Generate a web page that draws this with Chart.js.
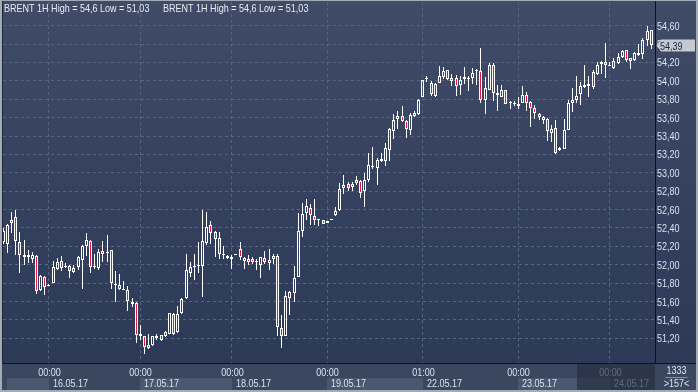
<!DOCTYPE html>
<html>
<head>
<meta charset="utf-8">
<script src="https://cdn.jsdelivr.net/npm/chart.js@4.4.1/dist/chart.umd.min.js"></script>
<style>
  html, body { margin: 0; padding: 0; background: #a3abb7; }
  #marco { width: 698px; height: 392px; }
</style>
</head>
<body>
<div id="marco"><canvas id="grafico" width="698" height="392"></canvas></div>
<script>
// BRENT 1H, velas horarias 15.05.17 - 24.05.17
const simbolo = "BRENT 1H";
const totalBarras = 1333;

const aperturas = [
  52.25, 52.23, 52.45, 52.52, 52.25, 52.08, 52.08, 52.06, 52.10, 51.72,
  51.87, 51.77, 51.80, 51.95, 52.04, 51.97, 51.99, 51.92, 51.98, 52.05,
  52.20, 52.26, 51.97, 51.96, 52.15, 52.13, 52.16, 51.78, 51.78, 51.73,
  51.73, 51.60, 51.58, 51.22, 51.22, 51.09, 51.13, 51.23, 51.18, 51.22,
  51.25, 51.46, 51.27, 51.47, 51.64, 51.91, 51.97, 51.99, 51.99, 52.24,
  52.43, 52.36, 52.29, 52.11, 52.10, 52.06, 52.11, 52.17, 52.04, 52.06,
  52.06, 52.03, 52.00, 52.07, 52.02, 52.06, 52.10, 51.31, 51.23, 51.64,
  51.69, 51.87, 52.37, 52.56, 52.62, 52.53, 52.49, 52.49, 52.45, 52.49,
  52.54, 52.59, 52.84, 52.88, 52.85, 52.89, 52.91, 52.80, 52.92, 53.06,
  53.05, 53.13, 53.13, 53.25, 53.46, 53.58, 53.62, 53.56, 53.47, 53.62,
  53.64, 53.82, 54.02, 53.98, 53.84, 53.98, 54.04, 54.12, 54.00, 54.03,
  53.95, 54.02, 54.02, 54.03, 54.11, 54.11, 53.79, 53.90, 54.17, 53.85,
  53.83, 53.90, 53.76, 53.75, 53.73, 53.76, 53.85, 53.77, 53.70, 53.61,
  53.61, 53.59, 53.43, 53.49, 53.25, 53.26, 53.47, 53.76, 53.79, 53.86,
  53.93, 53.94, 53.93, 54.08, 54.18, 54.20, 54.16, 54.14, 54.19, 54.26,
  54.34, 54.25, 54.23, 54.28, 54.29, 54.45, 54.55
];
const maximos = [
  52.40, 52.44, 52.57, 52.60, 52.36, 52.27, 52.16, 52.14, 52.11, 51.89,
  51.88, 51.79, 52.04, 52.07, 52.09, 52.02, 52.00, 52.00, 52.10, 52.22,
  52.34, 52.27, 52.12, 52.17, 52.26, 52.32, 52.16, 51.93, 51.90, 51.82,
  51.77, 51.64, 51.59, 51.34, 51.23, 51.25, 51.23, 51.25, 51.24, 51.28,
  51.48, 51.47, 51.55, 51.64, 52.12, 52.03, 52.12, 52.25, 52.60, 52.57,
  52.48, 52.37, 52.36, 52.20, 52.11, 52.11, 52.11, 52.25, 52.08, 52.11,
  52.08, 52.06, 52.08, 52.15, 52.17, 52.12, 52.12, 51.45, 51.71, 51.71,
  51.99, 52.56, 52.67, 52.72, 52.66, 52.72, 52.50, 52.49, 52.48, 52.49,
  52.63, 52.89, 52.98, 52.90, 52.90, 52.97, 52.92, 53.00, 53.22, 53.28,
  53.16, 53.21, 53.32, 53.49, 53.64, 53.67, 53.73, 53.57, 53.65, 53.67,
  53.80, 54.01, 54.05, 54.00, 53.98, 54.16, 54.15, 54.12, 54.07, 54.06,
  54.05, 54.15, 54.05, 54.14, 54.13, 54.36, 54.04, 54.19, 54.19, 53.96,
  53.96, 53.90, 53.78, 53.78, 53.82, 53.94, 53.88, 53.78, 53.74, 53.65,
  53.62, 53.60, 53.52, 53.57, 53.28, 53.58, 53.79, 53.92, 54.05, 53.99,
  54.17, 54.05, 54.12, 54.21, 54.22, 54.41, 54.21, 54.25, 54.30, 54.34,
  54.34, 54.25, 54.31, 54.40, 54.47, 54.60, 54.55
];
const minimos = [
  52.23, 52.13, 52.34, 52.11, 51.91, 52.00, 52.02, 52.02, 51.68, 51.71,
  51.67, 51.77, 51.80, 51.94, 51.93, 51.96, 51.86, 51.91, 51.94, 51.74,
  52.10, 51.91, 51.95, 51.94, 52.03, 52.03, 51.74, 51.59, 51.73, 51.72,
  51.50, 51.54, 51.15, 51.18, 51.03, 51.08, 51.12, 51.18, 51.17, 51.21,
  51.25, 51.24, 51.26, 51.46, 51.63, 51.87, 51.83, 51.91, 51.65, 52.22,
  52.23, 52.08, 52.06, 52.06, 52.06, 51.95, 52.11, 52.05, 51.95, 52.00,
  52.01, 51.94, 51.86, 52.01, 51.94, 52.01, 51.22, 51.09, 51.22, 51.45,
  51.60, 51.87, 52.30, 52.49, 52.43, 52.43, 52.42, 52.44, 52.45, 52.49,
  52.53, 52.58, 52.77, 52.80, 52.80, 52.87, 52.73, 52.63, 52.90, 53.04,
  52.87, 53.12, 53.07, 53.13, 53.37, 53.48, 53.55, 53.38, 53.41, 53.61,
  53.63, 53.82, 53.99, 53.84, 53.83, 53.98, 54.02, 54.01, 53.94, 53.84,
  53.85, 53.97, 53.89, 53.97, 53.96, 53.76, 53.64, 53.90, 53.78, 53.67,
  53.82, 53.75, 53.69, 53.73, 53.69, 53.76, 53.67, 53.50, 53.59, 53.57,
  53.53, 53.35, 53.33, 53.20, 53.24, 53.26, 53.47, 53.66, 53.76, 53.74,
  53.92, 53.83, 53.91, 54.06, 54.08, 54.03, 54.16, 54.13, 54.18, 54.25,
  54.21, 54.13, 54.22, 54.27, 54.24, 54.38, 54.35
];
const cierres = [
  52.37, 52.43, 52.49, 52.26, 52.11, 52.11, 52.11, 52.11, 51.71, 51.88,
  51.76, 51.78, 51.97, 52.03, 51.96, 51.99, 51.93, 51.96, 52.08, 52.20,
  52.27, 51.98, 51.99, 52.14, 52.12, 52.14, 51.80, 51.79, 51.74, 51.73,
  51.61, 51.57, 51.24, 51.25, 51.10, 51.13, 51.22, 51.20, 51.24, 51.27,
  51.47, 51.25, 51.46, 51.63, 51.94, 51.97, 51.99, 51.99, 52.26, 52.41,
  52.34, 52.28, 52.12, 52.11, 52.07, 52.08, 52.11, 52.08, 52.07, 52.03,
  52.03, 52.03, 52.08, 52.03, 52.05, 52.10, 51.32, 51.22, 51.66, 51.70,
  51.86, 52.37, 52.55, 52.64, 52.54, 52.49, 52.49, 52.44, 52.48, 52.49,
  52.58, 52.82, 52.87, 52.84, 52.88, 52.92, 52.78, 52.92, 53.09, 53.07,
  53.14, 53.15, 53.27, 53.48, 53.57, 53.62, 53.56, 53.48, 53.63, 53.65,
  53.79, 54.01, 54.02, 53.86, 53.97, 54.05, 54.11, 54.02, 54.03, 53.94,
  54.01, 54.04, 54.03, 54.09, 54.11, 53.79, 53.92, 54.17, 53.87, 53.87,
  53.90, 53.75, 53.76, 53.75, 53.75, 53.85, 53.76, 53.71, 53.65, 53.64,
  53.57, 53.46, 53.48, 53.22, 53.27, 53.47, 53.76, 53.79, 53.84, 53.94,
  53.96, 53.97, 54.10, 54.17, 54.20, 54.17, 54.16, 54.22, 54.26, 54.33,
  54.23, 54.22, 54.30, 54.30, 54.45, 54.54, 54.39
];

// numero de vela donde empieza cada dia
const inicioDia = [12, 34, 56, 79, 102, 125, 147];
const horasDia = ["00:00", "00:00", "00:00", "00:00", "01:00", "00:00", "00:00"];
const fechasDia = ["16.05.17", "17.05.17", "18.05.17", "19.05.17", "22.05.17", "23.05.17", "24.05.17"];
const preciosEje = [51.2, 51.4, 51.6, 51.8, 52.0, 52.2, 52.4, 52.6, 52.8, 53.0, 53.2, 53.4, 53.6, 53.8, 54.0, 54.2, 54.4, 54.6];

const fuente = '11px "Liberation Sans", Arial, sans-serif';
const estrecho = 0.82; // simula una fuente estrecha
const rojo = "#e3173f";
const blanco = "#ffffff";
const rejilla = "#56647e";
const textoEje = "#d9e3f2";
const coma = v => String(v).replace(".", ",");

const velas = aperturas.map((_, i) => i + 1);
const mechaAlta = velas.map((x, i) => ({ x, y: [Math.max(aperturas[i], cierres[i]), maximos[i]] }));
const mechaBaja = velas.map((x, i) => ({ x, y: [minimos[i], Math.min(aperturas[i], cierres[i])] }));
const cuerpos = velas.map((x, i) => ({ x, y: [aperturas[i], cierres[i]] }));
const rellenos = velas.map((_, i) => cierres[i] < aperturas[i] ? rojo : "rgba(0,0,0,0)");

function texto(ctx, str, x, y, align, color) {
  ctx.save();
  ctx.translate(x, y);
  ctx.scale(estrecho, 1);
  ctx.font = fuente;
  ctx.textAlign = align;
  ctx.textBaseline = "alphabetic";
  ctx.fillStyle = color;
  ctx.fillText(str, 0, 0);
  ctx.restore();
}

const decorado = {
  id: "decorado",
  beforeDraw(chart) {
    const { ctx, chartArea: a, width, height } = chart;
    const x = chart.scales.x;
    ctx.save();
    ctx.fillStyle = "#a3abb7";
    ctx.fillRect(0, 0, width, height);
    const g = ctx.createLinearGradient(0, a.top, 0, a.bottom);
    g.addColorStop(0, "#3f4b67");
    g.addColorStop(1, "#2c3957");
    ctx.fillStyle = g;
    ctx.fillRect(2, 1, width - 4, a.bottom - 1);
    ctx.fillStyle = "#3b475f";
    ctx.fillRect(2, a.bottom, width - 4, height - 2 - a.bottom);
    // cajas alternas de las fechas
    const bordes = [a.left + 4, ...inicioDia.map(v => Math.round(x.getPixelForValue(v))), a.right];
    ctx.fillStyle = "#4b576f";
    for (let k = 0; k < bordes.length - 1; k += 2) {
      ctx.fillRect(bordes[k], a.bottom + 15, bordes[k + 1] - bordes[k], 12);
    }
    ctx.restore();
  },
  afterDatasetsUpdate(chart) {
    chart.data.datasets.forEach((ds, i) => {
      chart.getDatasetMeta(i).data.forEach(el => {
        el.x = Math.floor(el.x) + 0.5;
        el.y = Math.round(el.y);
        el.base = Math.round(el.base);
      });
    });
  },
  afterDraw(chart) {
    const { ctx, chartArea: a, width, height } = chart;
    const x = chart.scales.x, y = chart.scales.y;
    ctx.save();

    // cabecera
    const cab = `${simbolo} High = ${coma(Math.max(...maximos))} Low = ${coma(Math.min(...minimos))}`;
    texto(ctx, cab, 4, 12, "left", "#e8edf5");
    texto(ctx, cab, 163, 12, "left", "#e8edf5");

    // etiquetas del eje de precios
    y.ticks.forEach(t => {
      texto(ctx, t.value.toFixed(2).replace(".", ","), a.right + 2, Math.round(y.getPixelForValue(t.value)) + 4, "left", textoEje);
    });

    // horas y fechas
    x.ticks.forEach((t, k) => {
      const px = Math.round(x.getPixelForValue(t.value));
      texto(ctx, horasDia[k], px + 0.5, a.bottom + 13, "center", textoEje);
      texto(ctx, fechasDia[k], px + 4, a.bottom + 24, "left", textoEje);
    });

    // lineas del marco
    ctx.fillStyle = "#0c1220";
    ctx.fillRect(a.right, 1, 1, a.bottom);
    ctx.fillRect(2, a.bottom, width - 4, 1);
    ctx.fillStyle = "#1f2738";
    ctx.fillRect(2, 1, 1, a.bottom);

    // precio actual
    const ult = cierres[cierres.length - 1];
    const py = Math.round(y.getPixelForValue(ult));
    ctx.fillStyle = "#c4c9d2";
    ctx.beginPath();
    ctx.moveTo(a.right + 1.5, py + 0.5);
    ctx.lineTo(a.right + 6, py - 5.5);
    ctx.lineTo(width - 3, py - 5.5);
    ctx.lineTo(width - 3, py + 6.5);
    ctx.lineTo(a.right + 6, py + 6.5);
    ctx.closePath();
    ctx.fill();
    texto(ctx, coma(ult.toFixed(2)), a.right + 5, py + 5, "left", "#1c2740");

    // celda contador
    const cx = (a.right + width - 2) / 2 + 1;
    texto(ctx, String(totalBarras), cx, a.bottom + 11, "center", textoEje);
    texto(ctx, ">" + velas.length + "<", cx, a.bottom + 24, "center", textoEje);
    ctx.fillStyle = "#8592a8";
    ctx.fillRect(cx - 11, a.bottom + 14, 22, 1);

    // zona oscura del final
    ctx.fillStyle = "rgba(36,46,66,0.68)";
    ctx.fillRect(a.right - 78, a.bottom + 1, 78, height - 3 - a.bottom);
    ctx.restore();
  }
};

const ctx = document.getElementById("grafico").getContext("2d");
new Chart(ctx, {
  type: "bar",
  data: {
    datasets: [
      { data: mechaAlta, backgroundColor: blanco, barThickness: 1, borderWidth: 0 },
      { data: mechaBaja, backgroundColor: blanco, barThickness: 1, borderWidth: 0 },
      { data: cuerpos, backgroundColor: rellenos, borderColor: blanco, borderWidth: 1, barThickness: 3, minBarLength: 1 }
    ]
  },
  options: {
    responsive: false,
    animation: false,
    devicePixelRatio: 1,
    layout: { padding: { left: 3, right: 2, top: 2, bottom: 2 } },
    plugins: { legend: { display: false }, tooltip: { enabled: false } },
    datasets: { bar: { grouped: false, borderSkipped: false, inflateAmount: 0 } },
    scales: {
      x: {
        type: "linear", min: 0.93, max: 157.89, offset: false, bounds: "data",
        grid: { color: rejilla, drawTicks: false, offset: false },
        border: { display: false, dash: [3, 3] },
        afterBuildTicks: s => { s.ticks = inicioDia.map(v => ({ value: v })); },
        afterFit: s => { s.height = 27; s.paddingLeft = 0; s.paddingRight = 0; },
        ticks: { display: false, autoSkip: false, maxRotation: 0 }
      },
      y: {
        position: "right", min: 50.931, max: 54.858, bounds: "data",
        grid: { color: rejilla, drawTicks: false },
        border: { display: false, dash: [3, 3] },
        afterBuildTicks: s => { s.ticks = preciosEje.map(v => ({ value: v })); },
        afterFit: s => { s.width = 41; s.paddingTop = 0; s.paddingBottom = 0; },
        ticks: { display: false }
      }
    }
  },
  plugins: [decorado]
});
</script>
</body>
</html>
